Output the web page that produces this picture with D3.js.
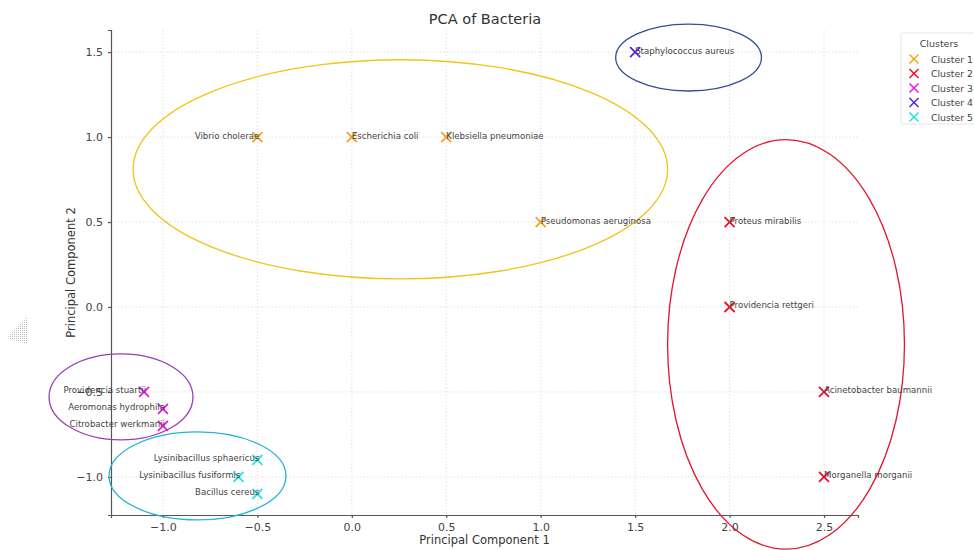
<!DOCTYPE html>
<html lang="en">
<head>
<meta charset="utf-8">
<title>PCA of Bacteria</title>
<script src="https://cdn.jsdelivr.net/npm/d3@7"></script>
<style>
  body { margin: 0; background: #fff; }
  text { font-family: "DejaVu Sans", sans-serif; }
  .grid line { stroke: #d9d9d9; stroke-width: 0.8; stroke-dasharray: 1.5, 2; }
  .axis path, .axis line { stroke: #555; stroke-width: 1.2; }
  .axis text { fill: #444; font-size: 11px; }
</style>
</head>
<body>
<script>

// data
var bacteria = ["Vibrio cholerae", "Escherichia coli", "Klebsiella pneumoniae", "Pseudomonas aeruginosa",
                "Proteus mirabilis", "Providencia rettgeri", "Acinetobacter baumannii", "Morganella morganii",
                "Providencia stuartii", "Aeromonas hydrophila", "Citrobacter werkmanii",
                "Staphylococcus aureus",
                "Lysinibacillus sphaericus", "Lysinibacillus fusiformis", "Bacillus cereus"];
var pc1 = [-0.5, 0.0, 0.5, 1.0, 2.0, 2.0, 2.5, 2.5, -1.1, -1.0, -1.0, 1.5, -0.5, -0.6, -0.5];
var pc2 = [1.0, 1.0, 1.0, 0.5, 0.5, 0.0, -0.5, -1.0, -0.5, -0.6, -0.7, 1.5, -0.9, -1.0, -1.1];
var cluster = [1, 1, 1, 1, 2, 2, 2, 2, 3, 3, 3, 4, 5, 5, 5];
var labelLeft = [true, false, false, false, false, false, false, false, true, true, true, false, true, true, true];

var clusterNames = ["Cluster 1", "Cluster 2", "Cluster 3", "Cluster 4", "Cluster 5"];
var clusterColors = ["#f7a21b", "#e8112d", "#e619e6", "#5a22dd", "#22e3e6"];

// ellipses drawn round the clusters (data units)
var ellCx = [0.257, 2.299, -1.222, 1.783, -0.817];
var ellCy = [0.81, -0.22, -0.529, 1.468, -0.994];
var ellW = [2.83, 1.254, 0.762, 0.772, 0.937];
var ellH = [1.29, 2.41, 0.506, 0.394, 0.518];
var ellColors = ["#f0c419", "#e0182f", "#9b3db8", "#34508f", "#25b3d6"];

var xTicks = [-1.0, -0.5, 0.0, 0.5, 1.0, 1.5, 2.0, 2.5];
var yTicks = [-1.0, -0.5, 0.0, 0.5, 1.0, 1.5];

var width = 974, height = 550;
var svg = d3.select("body").append("svg")
            .attr("width", width)
            .attr("height", height);

var x = d3.scaleLinear().domain([-1.275, 2.68]).range([111, 858]);
var y = d3.scaleLinear().domain([-1.224, 1.63]).range([515, 30]);

// faint cursor artefact on the left edge
var pat = svg.append("defs").append("pattern")
             .attr("id", "dots").attr("width", 2).attr("height", 2)
             .attr("patternUnits", "userSpaceOnUse");
pat.append("rect").attr("width", 1).attr("height", 1).attr("fill", "#bbb");
svg.append("path")
   .attr("d", "M27,316 L7,338 L12,340 L27,344 Z")
   .attr("fill", "url(#dots)");

// grid
svg.append("g").attr("class", "grid")
   .selectAll("line").data(xTicks).enter().append("line")
   .attr("x1", d => x(d)).attr("x2", d => x(d))
   .attr("y1", y.range()[1]).attr("y2", y.range()[0]);
svg.append("g").attr("class", "grid")
   .selectAll("line").data(yTicks).enter().append("line")
   .attr("y1", d => y(d)).attr("y2", d => y(d))
   .attr("x1", x.range()[0]).attr("x2", x.range()[1]);

// axes
var fmt = d => d3.format(".1f")(d).replace("-", "\u2212");
svg.append("g").attr("class", "axis")
   .attr("transform", "translate(0," + y.range()[0] + ")")
   .call(d3.axisBottom(x).tickValues(xTicks).tickFormat(fmt).tickSizeOuter(0).tickSize(3).tickPadding(5));
svg.append("g").attr("class", "axis")
   .attr("transform", "translate(" + x.range()[0] + ",0)")
   .call(d3.axisLeft(y).tickValues(yTicks).tickFormat(fmt).tickSizeOuter(0).tickSize(3).tickPadding(5));

// axis labels and title
svg.append("text")
   .attr("x", (x.range()[0] + x.range()[1]) / 2).attr("y", 544)
   .attr("text-anchor", "middle").attr("fill", "#333").style("font-size", "11.5px")
   .text("Principal Component 1");
svg.append("text")
   .attr("transform", "translate(75," + (y.range()[0] + y.range()[1]) / 2 + ") rotate(-90)")
   .attr("text-anchor", "middle").attr("fill", "#333").style("font-size", "11.5px")
   .text("Principal Component 2");
svg.append("text")
   .attr("x", 485).attr("y", 24)
   .attr("text-anchor", "middle").attr("fill", "#333").style("font-size", "14.5px")
   .text("PCA of Bacteria");

// ellipses
svg.append("g").selectAll("ellipse").data(ellCx).enter().append("ellipse")
   .attr("cx", d => x(d))
   .attr("cy", (d, i) => y(ellCy[i]))
   .attr("rx", (d, i) => (x(ellW[i]) - x(0)) / 2)
   .attr("ry", (d, i) => (y(0) - y(ellH[i])) / 2)
   .attr("fill", "none")
   .attr("stroke", (d, i) => ellColors[i])
   .attr("stroke-width", 1.3);

// markers
function cross(s) {
  return "M" + (-s) + "," + (-s) + "L" + s + "," + s + "M" + (-s) + "," + s + "L" + s + "," + (-s);
}
svg.append("g").selectAll("path").data(bacteria).enter().append("path")
   .attr("transform", (d, i) => "translate(" + x(pc1[i]) + "," + y(pc2[i]) + ")")
   .attr("d", cross(5))
   .attr("stroke", (d, i) => clusterColors[cluster[i] - 1])
   .attr("stroke-width", 1.8)
   .attr("fill", "none");

// labels
svg.append("g").selectAll("text").data(bacteria).enter().append("text")
   .attr("x", (d, i) => x(pc1[i]) + (labelLeft[i] ? 2 : 0))
   .attr("y", (d, i) => y(pc2[i]) + 1.5)
   .attr("text-anchor", (d, i) => labelLeft[i] ? "end" : "start")
   .attr("fill", "#444")
   .style("font-size", "8.6px")
   .text(d => d);

// legend
var lg = svg.append("g").attr("transform", "translate(901,33)");
lg.append("rect").attr("width", 80).attr("height", 91)
  .attr("fill", "#fff").attr("stroke", "#ddd").attr("stroke-width", 0.8).attr("rx", 2);
lg.append("text").attr("x", 38).attr("y", 14).attr("text-anchor", "middle")
  .attr("fill", "#444").style("font-size", "9.5px").text("Clusters");
var items = lg.selectAll("g.item").data(clusterNames).enter().append("g")
  .attr("transform", (d, i) => "translate(0," + (26 + i * 14.5) + ")");
items.append("path")
  .attr("transform", "translate(13,0)")
  .attr("d", cross(4.5))
  .attr("stroke", (d, i) => clusterColors[i])
  .attr("stroke-width", 1.5);
items.append("text").attr("x", 30).attr("y", 3.5)
  .attr("fill", "#444").style("font-size", "9.3px").text(d => d);

</script>
</body>
</html>
